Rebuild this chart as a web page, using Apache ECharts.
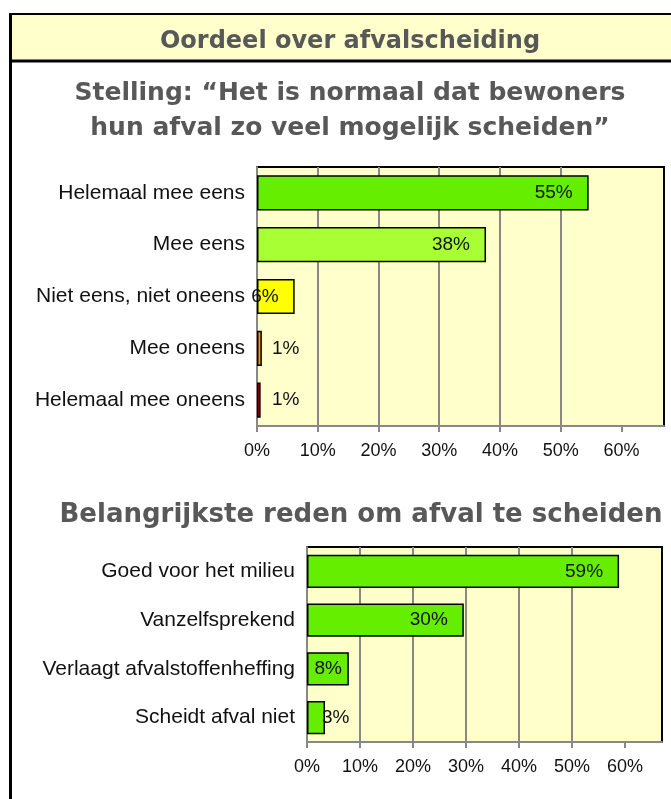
<!DOCTYPE html>
<html>
<head>
<meta charset="utf-8">
<script src="https://cdn.jsdelivr.net/npm/echarts@6/dist/echarts.min.js"></script>
<style>
  html, body { margin: 0; padding: 0; background: #fff; }
  #chart { width: 671px; height: 799px; }
</style>
</head>
<body>
<div id="chart"></div>
<script>
// == Data =====================================================================

const headerTitle = 'Oordeel over afvalscheiding'
const title1 = 'Stelling: \u201cHet is normaal dat bewoners\nhun afval zo veel mogelijk scheiden\u201d'
const title2 = 'Belangrijkste reden om afval te scheiden'

const categories1 = ['Helemaal mee eens', 'Mee eens', 'Niet eens, niet oneens', 'Mee oneens', 'Helemaal mee oneens']
const values1 = [54.6, 37.7, 6.2, 0.8, 0.6]
const colors1 = ['#66ee00', '#a8ff33', '#ffff00', '#ff9900', '#ff0000']

const categories2 = ['Goed voor het milieu', 'Vanzelfsprekend', 'Verlaagt afvalstoffenheffing', 'Scheidt afval niet']
const values2 = [58.9, 29.6, 7.9, 3.4]
const colors2 = ['#66ee00', '#66ee00', '#66ee00', '#66ee00']

const tickValues = [0, 10, 20, 30, 40, 50, 60]

// where Excel put each data label
const labelPos1 = [['insideRight', 16], ['insideRight', 16], ['insideRight', 16], ['insideLeft', 15], ['insideLeft', 15]]
const labelPos2 = [['insideRight', 16], ['insideRight', 16], ['insideRight', 7], ['insideLeft', 15]]

// == Helpers ==================================================================

const SANS = '"Liberation Sans", Arial, sans-serif'
const HEAD = '"DejaVu Sans", Verdana, sans-serif'

function xAxis (gridIndex) {
  return {
    type: 'value',
    gridIndex,
    min: 0,
    max: 67,
    interval: 10,
    axisLine: { show: true, lineStyle: { color: '#888', width: 2 } },
    axisTick: { show: true, length: 6, customValues: tickValues, lineStyle: { color: '#888', width: 2 } },
    axisLabel: { customValues: tickValues, formatter: '{value}%', color: '#111', fontFamily: SANS, fontSize: 18, margin: 16 },
    splitLine: { show: true, showMinLine: false, showMaxLine: false, lineStyle: { color: '#888', width: 2 } }
  }
}

function yAxis (gridIndex, cats) {
  return {
    type: 'category',
    gridIndex,
    data: cats,
    inverse: true,
    axisLine: { show: true, lineStyle: { color: '#888', width: 2 } },
    axisTick: { show: false },
    axisLabel: { color: '#111', fontFamily: SANS, fontSize: 21, margin: 12 },
    splitLine: { show: false }
  }
}

function barSeries (index, values, colors, labelPos) {
  return {
    type: 'bar',
    xAxisIndex: index,
    yAxisIndex: index,
    barCategoryGap: '32%',
    data: values.map((v, i) => ({
      value: v,
      itemStyle: { color: colors[i] },
      label: { position: labelPos[i][0], distance: labelPos[i][1] }
    })),
    itemStyle: { borderColor: '#000', borderWidth: 1.5 },
    label: {
      show: true,
      color: '#111',
      fontFamily: SANS,
      fontSize: 19,
      formatter: p => Math.round(p.value) + '%'
    },
    silent: true,
    animation: false
  }
}

// == Chart ====================================================================

const chart = echarts.init(document.getElementById('chart'), null, { renderer: 'canvas' })

chart.setOption({
  backgroundColor: '#fff',
  animation: false,
  title: [
    { text: headerTitle, left: 345, top: 25, textAlign: 'center',
      textStyle: { color: '#585858', fontFamily: HEAD, fontWeight: 'bold', fontSize: 24 } },
    { text: title1, left: 345, top: 71, textAlign: 'center',
      textStyle: { color: '#585858', fontFamily: HEAD, fontWeight: 'bold', fontSize: 25, lineHeight: 35 } },
    { text: title2, left: 356, top: 497, textAlign: 'center',
      textStyle: { color: '#585858', fontFamily: HEAD, fontWeight: 'bold', fontSize: 26 } }
  ],
  graphic: [
    { type: 'rect', z: -10, shape: { x: 10, y: 14, width: 661, height: 47 }, style: { fill: '#ffffcc' } },
    { type: 'line', shape: { x1: 9, y1: 14, x2: 671, y2: 14 }, style: { stroke: '#000', lineWidth: 2 } },
    { type: 'line', shape: { x1: 9, y1: 61, x2: 671, y2: 61 }, style: { stroke: '#000', lineWidth: 3 } },
    { type: 'line', shape: { x1: 10.5, y1: 13, x2: 10.5, y2: 799 }, style: { stroke: '#000', lineWidth: 3 } }
  ],
  grid: [
    { left: 257, top: 167, right: 7, height: 259, show: true, backgroundColor: '#ffffcc', borderColor: '#000', borderWidth: 2 },
    { left: 307, top: 547, right: 9, height: 195, show: true, backgroundColor: '#ffffcc', borderColor: '#000', borderWidth: 2 }
  ],
  xAxis: [xAxis(0), xAxis(1)],
  yAxis: [yAxis(0, categories1), yAxis(1, categories2)],
  series: [
    barSeries(0, values1, colors1, labelPos1),
    barSeries(1, values2, colors2, labelPos2)
  ]
})
</script>
</body>
</html>
